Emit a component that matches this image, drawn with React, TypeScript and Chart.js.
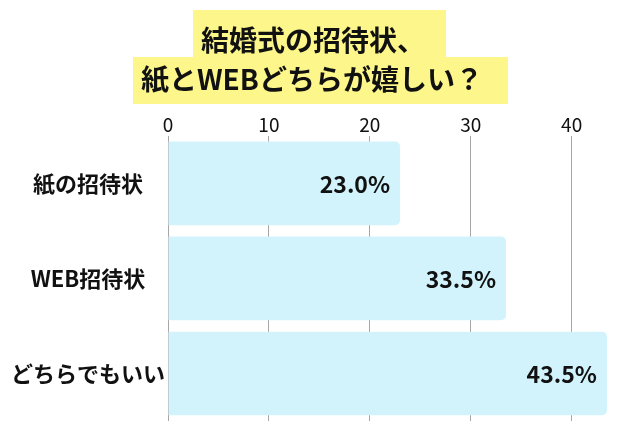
import React, { useRef, useEffect } from 'react';
import { Chart, registerables } from 'chart.js';

Chart.register(...registerables);

const TITLE_LINES = ['結婚式の招待状、', '紙とWEBどちらが嬉しい？'];
const CATEGORIES = ['紙の招待状', 'WEB招待状', 'どちらでもいい'];
const VALUES = [23.0, 33.5, 43.5];
const TICKS = [0, 10, 20, 30, 40];

const JP_FONT = '"Noto Sans CJK JP", "Noto Sans", sans-serif';

// yellow highlighted two-line title drawn on the canvas
const titlePlugin = {
    id: 'highlightTitle',
    beforeDraw: (chart) => {
        const ctx = chart.ctx;
        ctx.save();
        ctx.fillStyle = '#fdf68a';
        ctx.fillRect(193, 10, 253, 48);
        ctx.fillRect(133, 57, 375, 47);
        ctx.font = `bold 28px ${JP_FONT}`;
        ctx.textAlign = 'left';
        ctx.textBaseline = 'middle';
        ctx.fillStyle = '#111';
        ctx.fillText(TITLE_LINES[0], 201, 40);
        ctx.fillText(TITLE_LINES[1], 141, 79);
        ctx.restore();
    }
};

// percentage labels inside the end of each bar
const valueLabels = {
    id: 'valueLabels',
    afterDatasetsDraw: (chart) => {
        const ctx = chart.ctx;
        const meta = chart.getDatasetMeta(0);
        ctx.save();
        ctx.font = `bold 23px ${JP_FONT}`;
        ctx.fillStyle = '#111';
        ctx.textAlign = 'right';
        ctx.textBaseline = 'middle';
        meta.data.forEach((bar, i) => {
            ctx.fillText(`${VALUES[i].toFixed(1)}%`, bar.x - 10, bar.y + 1);
        });
        ctx.restore();
    }
};

export default function App() {
    const canvasRef = useRef<HTMLCanvasElement>(null);

    useEffect(() => {
        const ctx = canvasRef.current?.getContext('2d');
        if (!ctx) return;
        const chart = new Chart(ctx, {
            type: 'bar',
            data: {
                labels: CATEGORIES,
                datasets: [{
                    data: VALUES,
                    backgroundColor: '#d3f3fc',
                    borderWidth: 0,
                    borderRadius: 5,
                    borderSkipped: 'start',
                    barPercentage: 0.88,
                    categoryPercentage: 1.0,
                }],
            },
            options: {
                indexAxis: 'y',
                animation: false,
                responsive: false,
                layout: { padding: { top: 113, right: 28, bottom: 19, left: 0 } },
                plugins: {
                    legend: { display: false },
                    tooltip: { enabled: false },
                },
                scales: {
                    x: {
                        position: 'top',
                        min: 0,
                        max: 44,
                        afterBuildTicks: (axis) => {
                            axis.ticks = TICKS.map(v => ({ value: v }));
                        },
                        ticks: {
                            color: '#111',
                            padding: 0,
                            font: { family: JP_FONT, size: 19 },
                        },
                        grid: { color: '#a6a6a6', lineWidth: 1, drawTicks: false },
                        border: { display: false },
                    },
                    y: {
                        // fixed label column; labels centred in it
                        afterFit: (axis) => {
                            axis.width = 168;
                            axis.paddingTop = 0;
                            axis.paddingBottom = 0;
                        },
                        ticks: {
                            color: '#111',
                            crossAlign: 'center',
                            padding: -5,
                            font: { family: JP_FONT, size: 22, weight: 'bold' },
                        },
                        grid: { display: false },
                        border: { display: false },
                    },
                },
            },
            plugins: [titlePlugin, valueLabels],
        });
        return () => chart.destroy();
    }, []);

    return (
        <div style={{ position: 'absolute', left: 0, top: 0, width: 640, height: 440, background: '#fff' }}>
            <canvas ref={canvasRef} width={640} height={440} style={{ width: 640, height: 440 }} />
        </div>
    );
}
